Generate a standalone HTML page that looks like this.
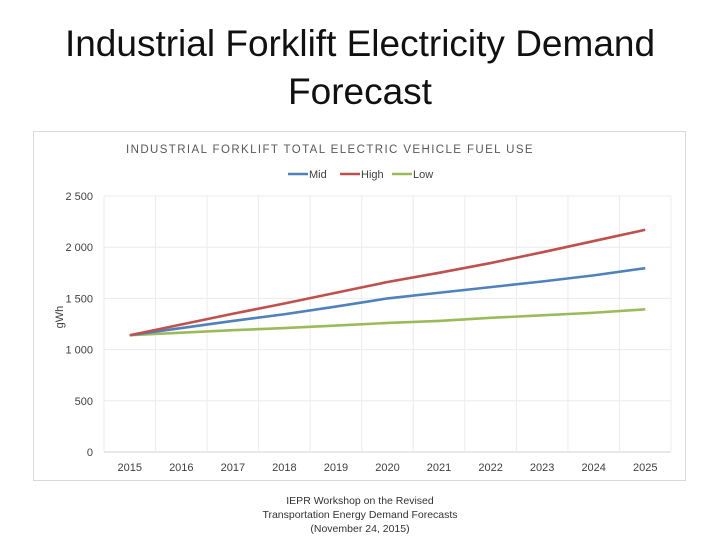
<!DOCTYPE html>
<html><head><meta charset="utf-8"><style>
body{margin:0;width:720px;height:540px;background:#fff;font-family:"Liberation Sans",sans-serif;overflow:hidden;position:relative}
#title{position:absolute;left:0;top:20px;width:720px;text-align:center;font-size:37px;line-height:48px;color:#111}
#foot{position:absolute;left:250px;top:494px;width:220px;text-align:center;font-size:10.5px;line-height:14px;color:#333}
svg{position:absolute;left:0;top:0}
</style></head><body>
<div id="title">Industrial Forklift Electricity Demand<br>Forecast</div>
<svg id="chart" width="720" height="540"></svg>
<div id="foot">IEPR Workshop on the Revised<br>Transportation Energy Demand Forecasts<br>(November 24, 2015)</div>
<script>
const years=["2015","2016","2017","2018","2019","2020","2021","2022","2023","2024","2025"];
const yTicks=[0,500,1000,1500,2000,2500];
const yTickLabels=["0","500","1 000","1 500","2 000","2 500"];
const mid=[1140,1210,1280,1345,1420,1500,1555,1610,1665,1725,1795];
const high=[1140,1245,1350,1450,1555,1660,1750,1845,1950,2060,2170];
const low=[1140,1165,1190,1210,1235,1260,1280,1310,1335,1360,1393];
const NS="http://www.w3.org/2000/svg",svg=document.getElementById('chart');
const L=104,R=671,T=196,B=452,yMax=2500;
const cw=(R-L)/years.length;
const x=i=>L+cw*(i+0.5), y=v=>B-(v/yMax)*(B-T);
function mk(t,a){const e=document.createElementNS(NS,t);for(const k in a)e.setAttribute(k,a[k]);svg.appendChild(e);return e;}
let box=mk('rect',{x:33.5,y:131.5,width:652,height:349,fill:'#fff',stroke:'#d9d9d9'});


let ct=mk('text',{x:330,y:153,'font-size':11.5,fill:'#595959','text-anchor':'middle','letter-spacing':'1.4'});
ct.textContent="INDUSTRIAL FORKLIFT TOTAL ELECTRIC VEHICLE FUEL USE";


yTicks.forEach((v,i)=>{
 let g=mk('line',{x1:L,x2:R,y1:y(v),y2:y(v),stroke:i==0?'#d0d0d0':'#ececec'});
 
 
 let t=mk('text',{x:93,y:y(v)+4,'font-size':11,fill:'#404040','text-anchor':'end'});
 t.textContent=yTickLabels[i];
 
 
});
for(let i=0;i<=years.length;i++){
 let g=mk('line',{x1:L+cw*i,x2:L+cw*i,y1:T,y2:B,stroke:'#ececec'});
 
 
}
years.forEach((yr,i)=>{
 let t=mk('text',{x:x(i),y:471,'font-size':11,fill:'#404040','text-anchor':'middle'});
 t.textContent=yr;
 
 
});
let yt=mk('text',{x:0,y:0,'font-size':11,fill:'#404040','text-anchor':'middle',transform:'translate(63,317) rotate(-90)'});
yt.textContent="gWh";


const series=[["Low",low,"#9bbb59"],["Mid",mid,"#4f81bd"],["High",high,"#c0504d"]];
series.forEach(([n,d,c])=>{
 let p=mk('polyline',{points:d.map((v,i)=>x(i)+','+y(v)).join(' '),fill:'none',stroke:c,'stroke-width':2.6});
 
 
});
const leg=[["Mid","#4f81bd",288],["High","#c0504d",340],["Low","#9bbb59",392]];
leg.forEach(([n,c,lx])=>{
 let l=mk('line',{x1:lx,x2:lx+20,y1:174,y2:174,stroke:c,'stroke-width':2.6});
 
 
 let t=mk('text',{x:lx+21,y:178,'font-size':11,fill:'#404040'});
 t.textContent=n;
 
 
});
</script>
</body></html>
